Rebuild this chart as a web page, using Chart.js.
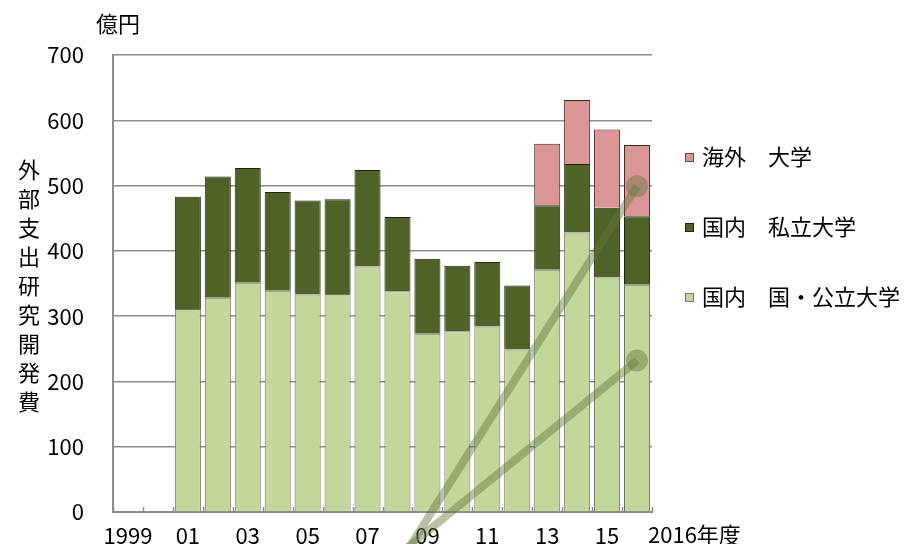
<!DOCTYPE html>
<html>
<head>
<meta charset="utf-8">
<script src="https://cdn.jsdelivr.net/npm/chart.js@4.4.0/dist/chart.umd.min.js"></script>
<style>
  html, body { margin: 0; padding: 0; background: #fff; }
</style>
</head>
<body>
<canvas id="chart" width="907" height="544"></canvas>
<script>
const years = ['1999','2000','2001','2002','2003','2004','2005','2006','2007','2008',
               '2009','2010','2011','2012','2013','2014','2015','2016'];
const tickLabels = ['1999','','01','','03','','05','','07','','09','','11','','13','','15',''];

// 億円
const publicUniv   = [null, null, 311, 328, 351, 339, 333, 334, 376, 338, 273, 277, 284, 249, 371, 428, 359, 348];
const privateUniv  = [null, null, 172, 186, 176, 151, 144, 145, 148, 114, 115, 100,  99,  98,  99, 105, 107, 105];
const overseasUniv = [null, null, null, null, null, null, null, null, null, null, null, null, null, null, 94, 98, 120, 109];

// the two stray olive lines
const lineA = [null, null, null, null, null, null, null, null, null, -83, null, null, null, null, null, null, null, 499];
const lineB = [null, null, null, null, null, null, null, null, null, -67, null, null, null, null, null, null, null, 232];

const legendItems = [
    { text: '海外　大学',         color: '#d99694', border: '#6b4a4a' },
    { text: '国内　私立大学',     color: '#4f6228', border: '#1e2810' },
    { text: '国内　国・公立大学', color: '#c4d79b', border: '#777777' }
];

const FONT = '"Noto Sans CJK JP", "Noto Sans", sans-serif';
const lineColor = 'rgba(100, 118, 60, 0.45)';

function endPoint(arr) {
    return arr.map((v, i) => (i === arr.length - 1 ? 11 : 0));
}

const extras = {
    id: 'extras',
    afterDraw(chart) {
        const c = chart.ctx;
        const x = chart.scales.x;
        const y = chart.scales.y;
        c.save();

        // small upward ticks between categories
        const step = (x.right - x.left) / years.length;
        c.strokeStyle = '#8c8c8c';
        c.lineWidth = 1.5;
        for (let i = 0; i <= years.length; i++) {
            const px = Math.round(x.left + i * step) + 0.5;
            c.beginPath();
            c.moveTo(px, y.bottom);
            c.lineTo(px, y.bottom - 5);
            c.stroke();
        }

        c.fillStyle = '#000';
        c.font = '22px ' + FONT;
        c.textBaseline = 'middle';

        // unit
        c.textAlign = 'center';
        c.fillText('億円', 118, 24);

        // vertical axis title
        const title = '外部支出研究開発費';
        for (let i = 0; i < title.length; i++) {
            c.fillText(title[i], 29, 170 + i * 29);
        }

        // last x label
        c.textAlign = 'left';
        c.fillText('2016年度', 648, 535);

        // legend
        legendItems.forEach((it, i) => {
            const ly = 157 + i * 70;
            c.fillStyle = it.color;
            c.fillRect(685, ly - 4, 8, 8);
            c.strokeStyle = it.border;
            c.lineWidth = 1;
            c.strokeRect(685.5, ly - 3.5, 8, 8);
            c.fillStyle = '#000';
            c.fillText(it.text, 702, ly);
        });
        c.restore();
    }
};

const ctx = document.getElementById('chart').getContext('2d');
new Chart(ctx, {
    data: {
        labels: years,
        datasets: [
            {
                type: 'line', label: 'A', data: lineA, stack: 'a', order: 0,
                borderColor: lineColor, borderWidth: 8, spanGaps: true, clip: false,
                pointRadius: endPoint(lineA), pointBackgroundColor: lineColor, pointBorderWidth: 0
            },
            {
                type: 'line', label: 'B', data: lineB, stack: 'b', order: 0,
                borderColor: lineColor, borderWidth: 8, spanGaps: true, clip: false,
                pointRadius: endPoint(lineB), pointBackgroundColor: lineColor, pointBorderWidth: 0
            },
            {
                type: 'bar', label: '国内　国・公立大学', data: publicUniv, order: 1,
                backgroundColor: '#c4d79b', borderColor: '#6f6f6f', borderWidth: 1
            },
            {
                type: 'bar', label: '国内　私立大学', data: privateUniv, order: 1,
                backgroundColor: '#4f6228', borderColor: '#1e2810', borderWidth: 1
            },
            {
                type: 'bar', label: '海外　大学', data: overseasUniv, order: 1,
                backgroundColor: '#d99694', borderColor: '#3c2a2a', borderWidth: 1
            }
        ]
    },
    options: {
        responsive: false,
        animation: false,
        devicePixelRatio: 1,
        layout: { autoPadding: false, padding: { top: 55, right: 255, left: 0, bottom: 0 } },
        datasets: { bar: { barPercentage: 0.87, categoryPercentage: 1 } },
        plugins: { legend: { display: false }, tooltip: { enabled: false } },
        scales: {
            x: {
                stacked: true,
                grid: { display: false, drawTicks: false },
                border: { display: true, color: '#8c8c8c', width: 2 },
                ticks: {
                    autoSkip: false, maxRotation: 0, padding: 10,
                    color: '#000', font: { family: FONT, size: 22 },
                    callback: (v, i) => tickLabels[i]
                },
                afterFit: s => { s.height = 32; }
            },
            y: {
                stacked: true,
                min: 0, max: 700,
                grid: { color: '#8c8c8c', lineWidth: 1.5, tickLength: 29, tickColor: 'rgba(0,0,0,0)' },
                border: { display: true, color: '#8c8c8c', width: 2 },
                ticks: {
                    stepSize: 100, padding: 0,
                    color: '#000', font: { family: FONT, size: 22 }
                },
                afterFit: s => { s.width = 113; }
            }
        }
    },
    plugins: [extras]
});
</script>
</body>
</html>
